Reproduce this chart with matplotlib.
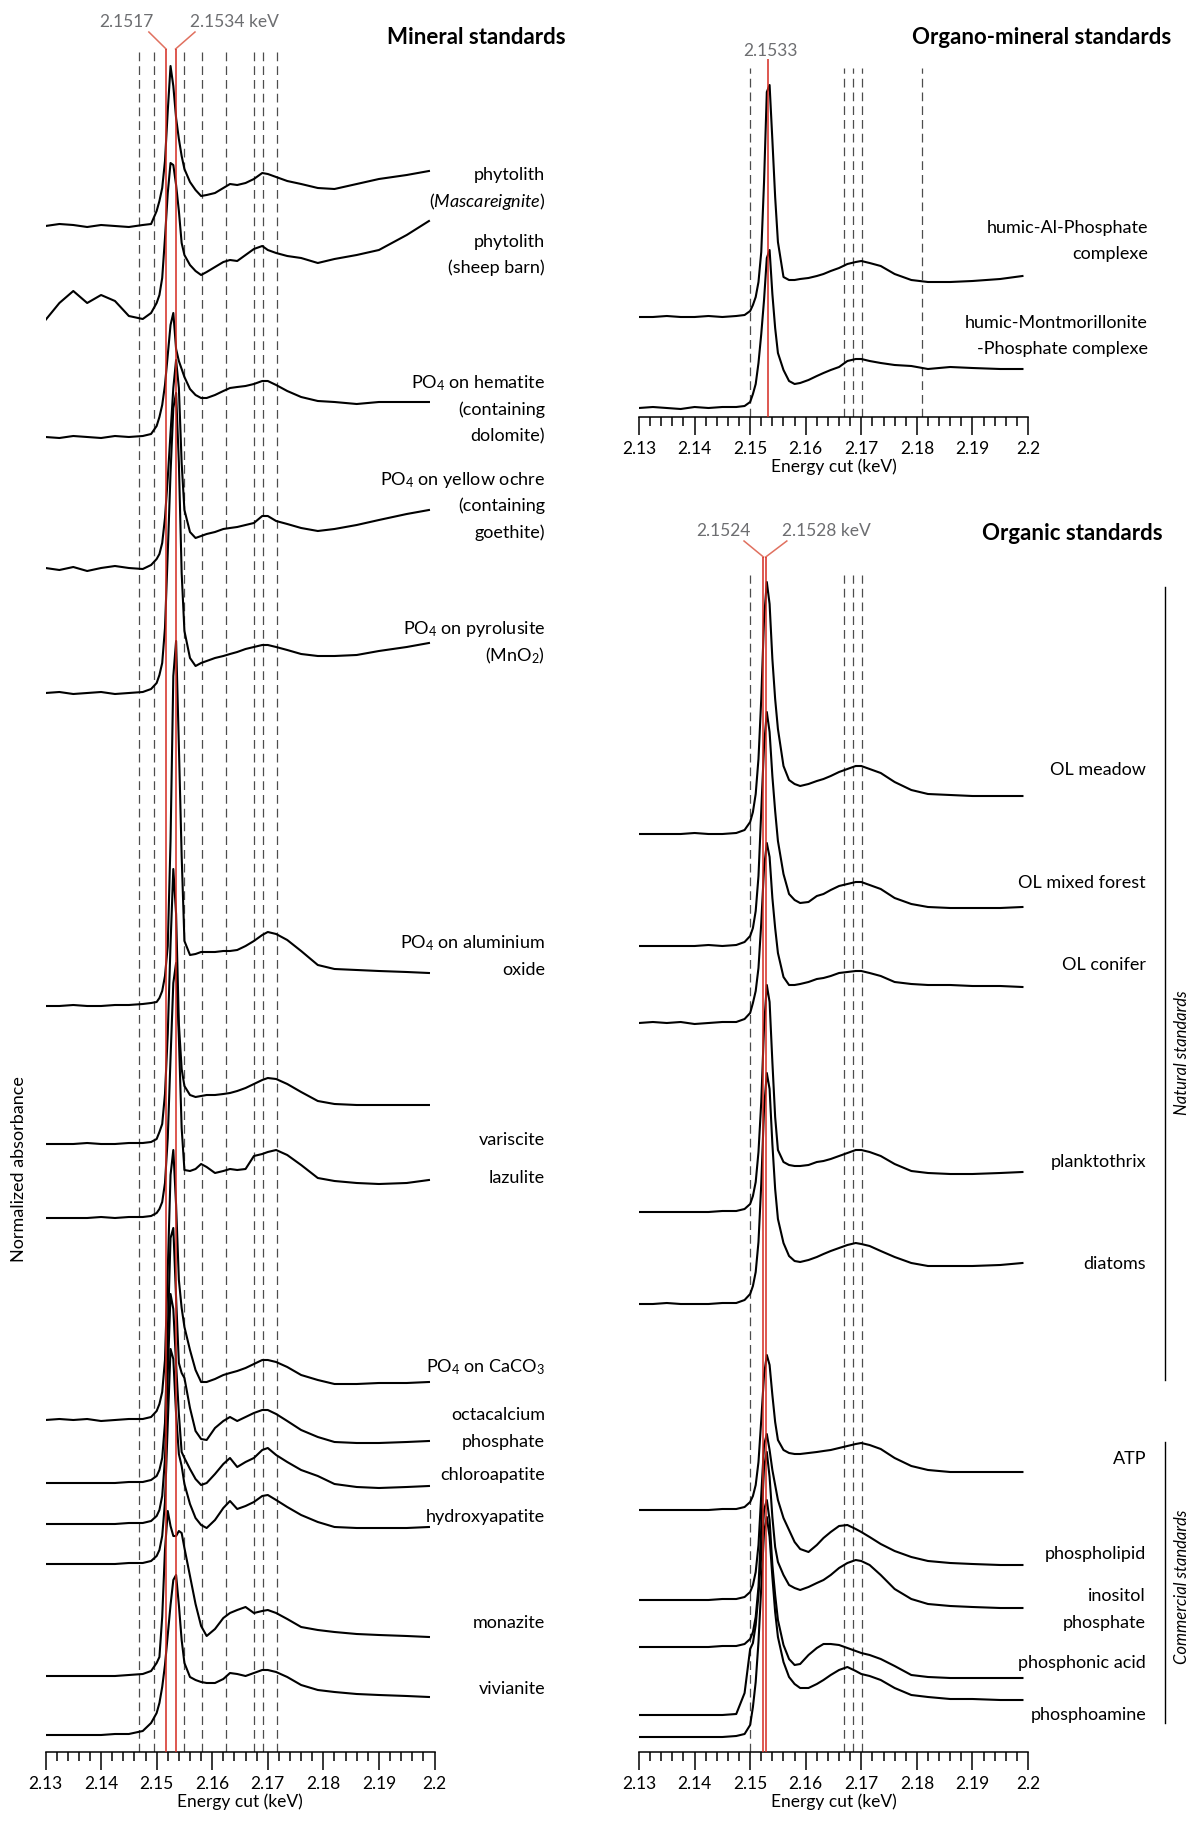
import numpy as np
import matplotlib
matplotlib.use("Agg")
import matplotlib.pyplot as plt
from matplotlib.ticker import FixedLocator, FixedFormatter, MultipleLocator

plt.rcParams["font.family"] = ["Lato", "DejaVu Sans"]
plt.rcParams["mathtext.fontset"] = "custom"
plt.rcParams["mathtext.rm"] = "Lato"
plt.rcParams["mathtext.it"] = "Lato:italic"
plt.rcParams["mathtext.bf"] = "Lato:bold"

# ------------------------------------------------------------
# data: energy grid (keV) and spectra (a.u., above own baseline)
# ------------------------------------------------------------
E = [2.1300, 2.1325, 2.1350, 2.1375, 2.1400, 2.1425, 2.1450, 2.1475,
     2.1490, 2.1500, 2.1505, 2.1510, 2.1515, 2.1520, 2.1525, 2.1530,
     2.1535, 2.1540, 2.1545, 2.1550, 2.1560, 2.1570, 2.1580, 2.1590,
     2.1605, 2.1620, 2.1632, 2.1645, 2.1660, 2.1675, 2.1690, 2.1700,
     2.1715, 2.1735, 2.1760, 2.1790, 2.1820, 2.1860, 2.1900, 2.1950,
     2.1990]

# mineral standards
mascareignite = [0, 2, 1, -1, 1, 0, -1, 1, 2, 15, 25, 38, 65, 115, 160, 140,
                 108, 87, 70, 57, 44, 36, 30, 31, 33, 38, 42, 41, 43, 47, 53, 52,
                 49, 45, 42, 38, 37, 42, 47, 51, 55]
sheep_barn = [-7, 10, 22, 10, 18, 12, -3, -6, 0, 10, 18, 35, 75, 120, 150, 148,
              128, 102, 70, 58, 48, 42, 38, 41, 46, 51, 53, 52, 58, 64, 67, 63,
              60, 57, 55, 50, 54, 58, 63, 78, 92]
hematite = [0, -1, 1, 0, -1, 1, 0, 1, 3, 11, 20, 32, 52, 82, 112, 124,
            88, 76, 68, 60, 48, 42, 39, 39, 42, 46, 49, 50, 51, 53, 56, 56,
            52, 46, 40, 36, 35, 33, 35, 35, 35]
yellow_ochre = [0, -2, 1, -3, 0, 2, 0, -1, 3, 9, 14, 25, 50, 90, 135, 180,
                208, 180, 105, 58, 36, 30, 32, 34, 36, 39, 40, 41, 43, 45, 52, 52,
                47, 44, 40, 37, 39, 43, 48, 54, 58]
pyrolusite = [0, 1, -1, 0, 1, -1, 0, 1, 4, 10, 18, 30, 65, 140, 220, 285,
              300, 230, 120, 62, 35, 27, 30, 32, 35, 37, 39, 41, 44, 46, 48, 48,
              46, 43, 39, 37, 37, 38, 42, 46, 50]
al_oxide = [0, 0, 1, 0, 0, 1, 1, 2, 3, 4, 8, 15, 30, 60, 165, 330,
            365, 260, 150, 65, 51, 52, 54, 54, 54, 55, 55, 56, 60, 65, 71, 74,
            72, 66, 55, 41, 37, 36, 35, 34, 33]
variscite = [0, 0, 0, 1, 0, 0, 1, 1, 2, 5, 12, 20, 50, 110, 200, 275,
             230, 120, 75, 58, 49, 47, 48, 49, 49, 50, 51, 53, 56, 60, 64, 66,
             65, 60, 52, 43, 40, 39, 39, 39, 39]
lazulite = [0, 0, 0, 0, 1, 0, 1, 1, 2, 5, 9, 16, 35, 80, 160, 235,
            255, 180, 90, 48, 47, 49, 54, 51, 45, 47, 49, 48, 49, 62, 64, 66,
            68, 63, 53, 40, 37, 35, 34, 35, 38]
caco3 = [0, 1, 0, 1, -1, 0, 1, 1, 3, 9, 16, 28, 60, 150, 245, 270,
         215, 140, 112, 93, 70, 50, 38, 38, 41, 45, 47, 49, 52, 56, 60, 60,
         58, 53, 45, 40, 36, 36, 37, 37, 38]
octacalcium = [0, 0, 0, 0, 0, 0, 1, 1, 3, 7, 13, 25, 60, 150, 245, 255,
               185, 120, 110, 105, 75, 52, 44, 43, 55, 62, 66, 62, 66, 70, 73, 73,
               69, 62, 53, 46, 41, 40, 40, 41, 42]
chloroapatite = [0, 0, 0, 0, 0, 0, 1, 1, 3, 8, 14, 28, 65, 150, 230, 215,
                 160, 110, 72, 66, 55, 45, 39, 41, 50, 60, 66, 57, 62, 66, 74, 76,
                 69, 62, 54, 48, 40, 37, 36, 37, 38]
hydroxyapatite = [0, 0, 0, 0, 0, 0, 1, 1, 3, 8, 14, 28, 62, 140, 215, 205,
                  150, 110, 98, 80, 60, 46, 39, 36, 44, 56, 63, 55, 58, 62, 68, 69,
                  64, 57, 49, 42, 37, 36, 36, 36, 37]
monazite = [0, 0, 0, 0, 0, 0, 1, 2, 5, 13, 19, 59, 126, 165, 150, 140,
            140, 145, 143, 128, 100, 72, 50, 40, 47, 58, 63, 66, 69, 63, 65, 66,
            63, 57, 49, 46, 44, 42, 41, 40, 39]
vivianite = [0, 0, 0, 0, 0, 1, 1, 4, 12, 22, 32, 48, 70, 100, 130, 155,
             160, 130, 95, 72, 58, 55, 53, 52, 52, 56, 62, 61, 59, 62, 65, 65,
             63, 58, 50, 45, 43, 41, 40, 39, 38]

# organo-mineral standards
humic_al = [0, 0, 1, 0, 0, 1, 0, 1, 2, 6, 12, 20, 35, 65, 135, 225,
            232, 177, 120, 75, 40, 37, 37, 38, 39, 41, 43, 46, 49, 53, 55, 56,
            54, 51, 43, 37, 35, 35, 36, 38, 41]
humic_montm = [0, 1, 0, -1, 1, 0, 1, 1, 2, 6, 14, 24, 45, 74, 108, 150,
               158, 114, 80, 55, 38, 27, 24, 25, 28, 32, 35, 38, 41, 47, 49, 49,
               47, 45, 43, 42, 39, 41, 40, 39, 39]

# organic standards
ol_meadow = [0, 0, 0, 0, 1, 0, 0, 1, 4, 12, 22, 40, 75, 135, 215, 252,
             230, 175, 135, 105, 68, 54, 50, 48, 50, 53, 55, 58, 62, 65, 68, 68,
             65, 61, 52, 44, 40, 39, 38, 38, 38]
ol_mixed = [0, 0, 0, 0, 0, 1, 0, 1, 4, 10, 18, 35, 70, 135, 200, 234,
            214, 170, 135, 105, 72, 52, 46, 43, 44, 50, 52, 56, 60, 62, 64, 64,
            61, 57, 48, 42, 39, 38, 38, 38, 39]
ol_conifer = [0, 1, 0, 1, -1, 0, 1, 1, 4, 10, 20, 32, 55, 100, 155, 180,
              166, 125, 95, 70, 46, 38, 38, 39, 41, 44, 45, 47, 50, 51, 52, 52,
              50, 47, 41, 39, 38, 38, 37, 37, 36]
planktothrix = [0, 0, 0, 0, 0, 0, 1, 1, 3, 8, 16, 30, 60, 110, 185, 227,
                210, 150, 95, 62, 50, 47, 46, 46, 47, 50, 51, 53, 56, 59, 62, 62,
                60, 56, 48, 41, 39, 38, 38, 39, 40]
diatoms = [0, 0, 1, 0, 0, 0, 1, 1, 4, 10, 18, 32, 62, 120, 195, 231,
           215, 160, 115, 85, 61, 48, 43, 42, 44, 47, 50, 53, 56, 59, 61, 60,
           58, 53, 47, 41, 38, 38, 38, 39, 41]
atp = [0, 0, 0, 0, 0, 0, 1, 1, 3, 8, 14, 25, 48, 90, 135, 155,
       145, 115, 88, 70, 60, 57, 56, 56, 57, 58, 59, 60, 62, 64, 66, 67,
       65, 61, 52, 44, 40, 38, 38, 38, 38]
phospholipid = [0, 0, 0, 0, 0, 0, 1, 1, 3, 8, 15, 28, 55, 105, 155, 166,
                150, 130, 115, 100, 82, 70, 58, 51, 48, 55, 62, 68, 74, 75, 71, 68,
                63, 56, 49, 43, 39, 37, 36, 35, 35]
inositol = [0, 0, 0, 0, 0, 0, 1, 1, 3, 8, 15, 30, 60, 120, 180, 195,
            170, 130, 100, 85, 72, 62, 59, 57, 60, 64, 67, 72, 79, 84, 87, 86,
            82, 72, 58, 48, 43, 41, 40, 39, 39]
phosphonic = [0, 0, 0, 0, 0, 0, 0, 1, 22, 66, 72, 90, 120, 160, 205, 215,
              195, 150, 120, 95, 70, 56, 50, 51, 60, 67, 71, 71, 70, 67, 64, 62,
              60, 56, 49, 40, 38, 37, 37, 37, 37]
phosphoamine = [0, 0, 0, 0, 0, 0, 0, 1, 3, 12, 30, 55, 95, 150, 205, 220,
                200, 160, 125, 100, 75, 60, 53, 49, 49, 53, 57, 62, 67, 70, 66, 63,
                61, 57, 49, 42, 40, 38, 38, 37, 37]

LEFT_SPECTRA = [mascareignite, sheep_barn, hematite, yellow_ochre, pyrolusite,
                al_oxide, variscite, lazulite, caco3, octacalcium,
                chloroapatite, hydroxyapatite, monazite, vivianite]
TOP_SPECTRA = [humic_al, humic_montm]
BOT_SPECTRA = [ol_meadow, ol_mixed, ol_conifer, planktothrix, diatoms,
               atp, phospholipid, inositol, phosphonic, phosphoamine]

# reference energies (keV)
LEFT_RED = [2.1517, 2.1534]
LEFT_DASH = [2.1469, 2.1496, 2.1550, 2.1581, 2.1625, 2.1676, 2.1692, 2.1716]
TOP_RED = [2.1533]
TOP_DASH = [2.1499, 2.1668, 2.1685, 2.1702, 2.1810]
BOT_RED = [2.1524, 2.1528]
BOT_DASH = [2.1499, 2.1668, 2.1685, 2.1702]

TICKS = [2.13, 2.14, 2.15, 2.16, 2.17, 2.18, 2.19, 2.20]
TICK_LABELS = ["2.13", "2.14", "2.15", "2.16", "2.17", "2.18", "2.19", "2.2"]

LEFT_LABELS = [["phytolith", r"($\mathit{Mascareignite}$)"],
               ["phytolith", "(sheep barn)"],
               [r"PO$_4$ on hematite", "(containing", "dolomite)"],
               [r"PO$_4$ on yellow ochre", "(containing", "goethite)"],
               [r"PO$_4$ on pyrolusite", r"(MnO$_2$)"],
               [r"PO$_4$ on aluminium", "oxide"],
               ["variscite"], ["lazulite"],
               [r"PO$_4$ on CaCO$_3$"],
               ["octacalcium", "phosphate"],
               ["chloroapatite"], ["hydroxyapatite"],
               ["monazite"], ["vivianite"]]
TOP_LABELS = [["humic-Al-Phosphate", "complexe"],
              ["humic-Montmorillonite", "-Phosphate complexe"]]
BOT_LABELS = [["OL meadow"], ["OL mixed forest"], ["OL conifer"],
              ["planktothrix"], ["diatoms"], ["ATP"], ["phospholipid"],
              ["inositol", "phosphate"], ["phosphonic acid"], ["phosphoamine"]]

# ------------------------------------------------------------
# layout (pixels of the 1189 x 1829 canvas)
# ------------------------------------------------------------
W, H = 1189, 1829
LEFT_OFF = [1526, 1439, 1315, 1184, 1059, 746, 608, 534, 332, 269, 228, 188, 76, 17]
TOP_OFF = [100, 9]
BOT_OFF = [918, 806, 729, 540, 448, 242, 152, 105, 37, 15]

LEFT_LAB_Y = [[175, 201], [242, 268], [383, 410, 436], [480, 506, 533],
              [629, 656], [943, 970], [1140], [1178], [1367], [1415, 1442],
              [1475], [1517], [1623], [1689]]
TOP_LAB_Y = [[228, 254], [323, 349]]
BOT_LAB_Y = [[770], [883], [965], [1162], [1264], [1459], [1554],
             [1596, 1623], [1663], [1715]]

fig = plt.figure(figsize=(W / 100, H / 100), dpi=100)


def add_ax(x0, top, x1, bottom):
    ax = fig.add_axes([x0 / W, 1 - bottom / H, (x1 - x0) / W, (bottom - top) / H])
    ax.set_xlim(2.13, 2.2)
    ax.set_ylim(0, bottom - top)
    for s in ["left", "right", "top"]:
        ax.spines[s].set_visible(False)
    ax.spines["bottom"].set_linewidth(1.1)
    ax.set_yticks([])
    ax.xaxis.set_major_locator(FixedLocator(TICKS))
    ax.xaxis.set_major_formatter(FixedFormatter(TICK_LABELS))
    ax.xaxis.set_minor_locator(MultipleLocator(0.002))
    ax.tick_params(axis="x", which="major", direction="out", length=13, width=1.1,
                   pad=4, labelsize=12.5)
    ax.tick_params(axis="x", which="minor", direction="out", length=6.5, width=1.1)
    ax.set_xlabel("Energy cut (keV)", fontsize=12.5, labelpad=1)
    ax.patch.set_alpha(0)
    return ax


def draw_panel(ax, spectra, offsets, red, dash, red_top, dash_top):
    ax.vlines(dash, 0, dash_top, colors="#4d4d4d", linewidth=0.9,
              linestyles=(0, (7, 4)), zorder=1)
    for vals, off in zip(spectra, offsets):
        ax.plot(E, off + np.array(vals), color="black", lw=1.5, zorder=2,
                solid_joinstyle="round")
    ax.vlines(red, 0, red_top, colors="#d42a20", linewidth=1.1, zorder=3)


def put_labels(labels, ys, xr, size=13):
    for lines, yy in zip(labels, ys):
        for t, y in zip(lines, yy):
            fig.text(xr / W, 1 - y / H, t, ha="right", va="center", fontsize=size)


GREY = "#6d6e71"
VRED = "#e0705f"

# --- left: mineral standards
axL = add_ax(45.5, 10, 434.5, 1752)
draw_panel(axL, LEFT_SPECTRA, LEFT_OFF, LEFT_RED, LEFT_DASH, 1703, 1703)
axL.plot([2.1486, LEFT_RED[0]], [1720, 1703], color=VRED, lw=1.1, clip_on=False)
axL.plot([2.1569, LEFT_RED[1]], [1720, 1703], color=VRED, lw=1.1, clip_on=False)
fig.text(126 / W, 1 - 22 / H, "2.1517", color=GREY, fontsize=12.5, ha="center", va="center")
fig.text(234 / W, 1 - 22 / H, "2.1534 keV", color=GREY, fontsize=12.5, ha="center", va="center")
fig.text(566 / W, 1 - 37 / H, "Mineral standards", fontsize=16, fontweight="bold",
         ha="right", va="center")
fig.text(19 / W, 1 - 1169 / H, "Normalized absorbance", rotation=90, fontsize=13,
         ha="center", va="center")
put_labels(LEFT_LABELS, LEFT_LAB_Y, 545)

# --- right top: organo-mineral standards
axT = add_ax(639, 20, 1028, 417)
draw_panel(axT, TOP_SPECTRA, TOP_OFF, TOP_RED, TOP_DASH, 358, 349)
fig.text(770 / W, 1 - 51 / H, "2.1533", color=GREY, fontsize=12.5, ha="center", va="center")
fig.text(1171 / W, 1 - 37 / H, "Organo-mineral standards", fontsize=16,
         fontweight="bold", ha="right", va="center")
put_labels(TOP_LABELS, TOP_LAB_Y, 1148)

# --- right bottom: organic standards
axB = add_ax(639, 520, 1028, 1752)
draw_panel(axB, BOT_SPECTRA, BOT_OFF, BOT_RED, BOT_DASH, 1195, 1177)
axB.plot([2.1489, BOT_RED[0]], [1211, 1195], color=VRED, lw=1.1, clip_on=False)
axB.plot([2.1566, BOT_RED[1]], [1211, 1195], color=VRED, lw=1.1, clip_on=False)
fig.text(723 / W, 1 - 531 / H, "2.1524", color=GREY, fontsize=12.5, ha="center", va="center")
fig.text(826 / W, 1 - 531 / H, "2.1528 keV", color=GREY, fontsize=12.5, ha="center", va="center")
fig.text(1163 / W, 1 - 533 / H, "Organic standards", fontsize=16, fontweight="bold",
         ha="right", va="center")
put_labels(BOT_LABELS, BOT_LAB_Y, 1146)

# group brackets
for y0, y1, txt, yc in [(587, 1380, "Natural standards", 1053),
                        (1442, 1723, "Commercial standards", 1587)]:
    fig.add_artist(plt.Line2D([1165 / W, 1165 / W], [1 - y0 / H, 1 - y1 / H],
                              color="black", lw=1.0, transform=fig.transFigure))
    fig.text(1182 / W, 1 - yc / H, txt, rotation=90, style="italic", fontsize=12,
             ha="center", va="center")

fig.savefig("out.png", dpi=100)
